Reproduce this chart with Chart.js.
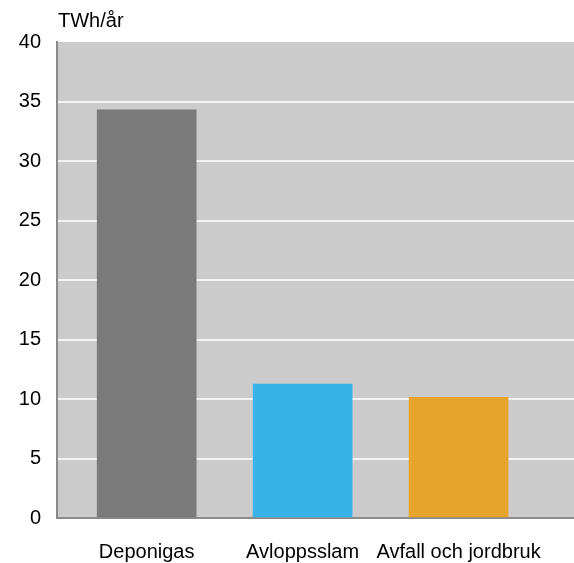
<!DOCTYPE html>
<html>
<head>
<meta charset="utf-8">
<script src="https://cdn.jsdelivr.net/npm/chart.js@4"></script>
<style>
  body { margin: 0; background: #fff; }
  #wrap { width: 574px; height: 563px; }
</style>
</head>
<body>
<div id="wrap"><canvas id="myChart"></canvas></div>
<script>
const categories = ["Deponigas", "Avloppsslam", "Avfall och jordbruk"];
const values = [34.3, 11.25, 10.15];
const barColors = ["#7a7a7a", "#38b3e8", "#e6a52a"];
const unitLabel = "TWh/år";

// grey plot background + unit label above the y axis
const plotBg = {
  id: "plotBg",
  beforeDraw(chart) {
    const { ctx, chartArea } = chart;
    ctx.save();
    ctx.fillStyle = "#cbcbcb";
    ctx.fillRect(chartArea.left, chartArea.top, chartArea.right - chartArea.left, chartArea.bottom - chartArea.top);
    ctx.restore();
  },
  afterDraw(chart) {
    const { ctx, chartArea } = chart;
    ctx.save();
    ctx.fillStyle = "#000";
    ctx.font = "20px 'Liberation Sans', Arial, sans-serif";
    ctx.textBaseline = "middle";
    ctx.textAlign = "left";
    ctx.fillText(unitLabel, chartArea.left + 1, 21);
    ctx.restore();
  },
};

const ctx = document.getElementById("myChart");
new Chart(ctx, {
  type: "bar",
  plugins: [plotBg],
  data: {
    datasets: [
      {
        data: values.map((v, i) => ({ x: i, y: v })),
        backgroundColor: barColors,
        barThickness: 99,
        borderWidth: 0,
      },
    ],
  },
  options: {
    responsive: true,
    maintainAspectRatio: false,
    animation: false,
    layout: { padding: { top: 42, right: 0, bottom: 0, left: 0 } },
    plugins: {
      legend: { display: false },
      tooltip: { enabled: false },
    },
    scales: {
      x: {
        type: "linear",
        min: -0.575,
        max: 2.74,
        offset: false,
        afterBuildTicks: (axis) => {
          axis.ticks = categories.map((c, i) => ({ value: i }));
        },
        afterFit: (axis) => {
          axis.height = 45;
        },
        ticks: {
          callback: (value) => categories[value],
          color: "#000",
          font: { family: "'Liberation Sans', Arial, sans-serif", size: 20 },
          padding: 22,
          maxRotation: 0,
          autoSkip: false,
        },
        grid: { display: false, drawTicks: false },
        border: { display: true, color: "#8a8a8a", width: 2 },
      },
      y: {
        min: 0,
        max: 40,
        afterFit: (axis) => {
          axis.width = 57;
        },
        ticks: {
          stepSize: 5,
          color: "#000",
          font: { family: "'Liberation Sans', Arial, sans-serif", size: 20 },
          padding: 16,
        },
        grid: {
          drawTicks: false,
          color: (c) => (c.tick && (c.tick.value === 0 || c.tick.value === 40) ? "rgba(0,0,0,0)" : "#f2f2f2"),
          lineWidth: 2,
        },
        border: { display: true, color: "#8a8a8a", width: 2 },
      },
    },
  },
});
</script>
</body>
</html>
